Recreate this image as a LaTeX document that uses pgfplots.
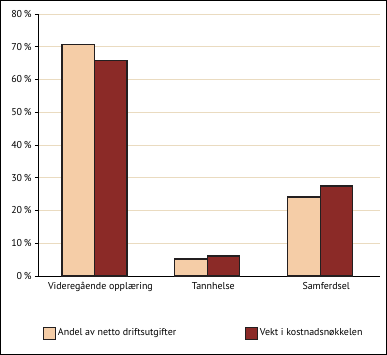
\documentclass[border=0pt]{standalone}
\usepackage{pgfplots}
\pgfplotsset{compat=1.18}
\usepackage{fontspec}
\setmainfont{PT Sans}
\definecolor{light}{HTML}{F5CDA7}
\definecolor{dark}{HTML}{8B2A27}
\definecolor{gridc}{HTML}{EADBC0}
\definecolor{edge}{HTML}{231F20}
\begin{document}
\begin{tikzpicture}
\draw[line width=1.2bp, black] (-37.4bp,-78.4bp) rectangle (348.4bp,275.4bp);
\begin{axis}[
  at={(0,0)}, anchor=south west,
  scale only axis,
  width=342bp, height=262bp,
  xmin=-0.5, xmax=2.53,
  ymin=0, ymax=80,
  ybar=0pt, bar width=32.5bp,
  axis x line*=bottom, axis y line*=left,
  axis line style={black, line width=0.8bp, -},
  xtick={0,1,2},
  xticklabels={Videregående opplæring, Tannhelse, Samferdsel},
  x tick label style={xshift=6bp},
  major x tick style={draw=none},
  extra x ticks={-0.5,0.5,1.5},
  extra x tick labels={},
  extra x tick style={major tick length=4bp, xmajorgrids=false, ymajorgrids=false, tick style={black, line width=0.8bp}, tick pos=lower, xtick align=outside},
  ytick={0,10,...,80},
  yticklabel={\pgfmathprintnumber{\tick}\,\%},
  ytick align=outside, major tick length=3bp,
  y tick style={black, line width=0.8bp},
  ymajorgrids, xmajorgrids=false, major grid style={draw=gridc, line width=1bp},
  /pgf/number format/assume math mode=true,
  tick label style={font=\fontsize{10}{12}\selectfont, black},
  clip=false,
  legend style={at={(2bp,-57bp)}, anchor=west, draw=none, fill=none,
    legend columns=2, font=\fontsize{10}{12}\selectfont,
    /tikz/every even column/.append style={column sep=67bp}},
  legend image code/.code={\draw[#1, line width=0.8bp] (0bp,-6bp) rectangle (12bp,6bp);},
]
\addplot[fill=light, draw=edge, line width=1.2bp] coordinates {(0,70.8) (1,5.2) (2,24.1)};
\addplot[fill=dark, draw=edge, line width=1.2bp] coordinates {(0,65.8) (1,6.1) (2,27.5)};
\legend{Andel av netto driftsutgifter, Vekt i kostnadsnøkkelen}
\end{axis}
\end{tikzpicture}
\end{document}
